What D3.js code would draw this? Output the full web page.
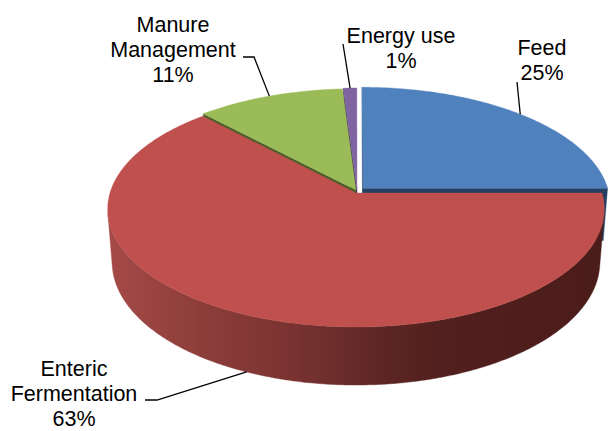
<!DOCTYPE html>
<html>
<head>
<meta charset="utf-8">
<script src="https://cdn.jsdelivr.net/npm/d3@7"></script>
<style>
  html, body { margin: 0; padding: 0; background: #fff; }
  svg { display: block; }
</style>
</head>
<body>
<svg id="chart" width="608" height="431"></svg>
<script>
// ---- data ----
const categories = ["Feed", "Enteric Fermentation", "Manure Management", "Energy use"];
const values = [25, 63, 11, 1];
const nameLines = [["Feed"], ["Enteric", "Fermentation"], ["Manure", "Management"], ["Energy use"]];

// ---- styling ----
const topColors = ["#4F81BD", "#BF504D", "#9BBB59", "#8064A2"];
const cutColors = ["#243F62", "#5A2422", "#4C5F27", "#3E3052"];
const sideColors = ["#2E4D73", null, "#5E7530", "#4B3B62"]; // red side uses a gradient
// slice pull-out in world units (x right, z away from viewer)
const explode = [{x: 0.0285, z: 0.042}, {x: 0, z: 0}, {x: 0.0, z: 0.026}, {x: 0.004, z: 0.034}];

// ---- 3D projection of a tilted disc ----
const cx = 356, cy = 193;
const R = 1, D = 6.5, phi = Math.asin(0.4707), F = 246 * D, H = 0.247;
const sinP = Math.sin(phi), cosP = Math.cos(phi);
function depthOf(x, y, z) { return D - y * sinP + z * cosP; }
function proj(x, y, z) {
  const d = depthOf(x, y, z);
  const up = y * cosP + z * sinP;
  return [cx + F * x / d, cy - F * up / d];
}
function rimPoint(a, y, off, r = R) {
  return proj(off.x + r * Math.sin(a), y, off.z + r * Math.cos(a));
}

const svg = d3.select("#chart");
const defs = svg.append("defs");
const grad = defs.append("linearGradient")
  .attr("id", "redSide").attr("gradientUnits", "userSpaceOnUse")
  .attr("x1", 105).attr("x2", 605).attr("y1", 0).attr("y2", 0);
[[0, "#A64A47"], [0.19, "#8D3E3B"], [0.37, "#7A3331"], [0.52, "#622927"],
 [0.66, "#52201E"], [1, "#4A1C1A"]].forEach(([o, c]) =>
  grad.append("stop").attr("offset", o).attr("stop-color", c));

const pie = d3.pie().sort(null).value(d => d).startAngle(0).endAngle(2 * Math.PI);
const arcs = pie(values);
const closed = d3.line().curve(d3.curveLinearClosed);
const step = Math.PI / 360;

function arcSamples(a0, a1) {
  const n = Math.max(2, Math.ceil((a1 - a0) / step));
  return d3.range(n + 1).map(i => a0 + (a1 - a0) * i / n);
}

const sideFaces = [];
const topFaces = [];
const camera = {x: 0, y: D * sinP, z: -D * cosP};

arcs.forEach((s, i) => {
  const off = explode[i];
  const a0 = s.startAngle, a1 = s.endAngle;
  const samples = arcSamples(a0, a1);

  // top surface
  const topPts = [proj(off.x, 0, off.z)].concat(samples.map(a => rimPoint(a, 0, off)));
  topFaces.push({pts: topPts, fill: topColors[i]});

  // outer curved side: keep the part facing the camera
  const vis = samples.filter(a => {
    const px = off.x + Math.sin(a), pz = off.z + Math.cos(a);
    return Math.sin(a) * (px - camera.x) + Math.cos(a) * (pz - camera.z) < 0;
  });
  if (vis.length > 1) {
    const top = vis.map(a => rimPoint(a, 0, off));
    const bot = vis.slice().reverse().map(a => rimPoint(a, -H, off));
    const dAvg = d3.mean(vis, a => depthOf(off.x + Math.sin(a), -H / 2, off.z + Math.cos(a)));
    sideFaces.push({pts: top.concat(bot), fill: i === 1 ? "url(#redSide)" : sideColors[i], depth: dAvg});
  }

  // radial cut faces
  [[a0, -1], [a1, 1]].forEach(([a, sgn]) => {
    const n = {x: sgn * Math.cos(a), z: -sgn * Math.sin(a)};
    const facing = n.x * (off.x - camera.x) + n.z * (off.z - camera.z);
    if (facing < 0) {
      const pts = [proj(off.x, 0, off.z), rimPoint(a, 0, off), rimPoint(a, -H, off), proj(off.x, -H, off.z)];
      const dAvg = depthOf(off.x + Math.sin(a) / 2, -H / 2, off.z + Math.cos(a) / 2);
      sideFaces.push({pts, fill: cutColors[i], depth: dAvg});
    }
  });
});

// far faces first, tops last
sideFaces.sort((p, q) => q.depth - p.depth);
svg.append("g").selectAll("path").data(sideFaces).join("path")
  .attr("d", d => closed(d.pts)).attr("fill", d => d.fill)
  .attr("stroke", d => d.fill).attr("stroke-width", 0.4);
svg.append("g").selectAll("path").data(topFaces).join("path")
  .attr("d", d => closed(d.pts)).attr("fill", d => d.fill)
  .attr("stroke", d => d.fill).attr("stroke-width", 0.4);

// ---- labels with leader lines ----
const labelLayout = [
  {x: 542, y: 55, lead: [[517, 82]], onSide: false},
  {x: 74, y: 376, lead: [[145, 400], [157, 400]], onSide: true},
  {x: 173, y: 32, lead: [[243, 57], [254, 57]], onSide: false},
  {x: 401, y: 43, lead: [[343, 44]], onSide: false}
];
const lineGap = 25;
const labels = svg.append("g")
  .attr("font-family", "'Liberation Sans', Arial, sans-serif")
  .attr("font-size", 21.5).attr("fill", "#000");

arcs.forEach((s, i) => {
  const L = labelLayout[i];
  const mid = (s.startAngle + s.endAngle) / 2;
  const end = L.onSide ? rimPoint(mid, -H, explode[i]) : rimPoint(mid, 0, explode[i]);
  svg.append("path")
    .attr("d", d3.line()(L.lead.concat([end])))
    .attr("fill", "none").attr("stroke", "#000").attr("stroke-width", 1.3);
  const lines = nameLines[i].concat([values[i] + "%"]);
  const t = labels.append("text").attr("text-anchor", "middle");
  lines.forEach((ln, k) => {
    t.append("tspan").attr("x", L.x).attr("y", L.y + k * lineGap).text(ln);
  });
});
</script>
</body>
</html>
